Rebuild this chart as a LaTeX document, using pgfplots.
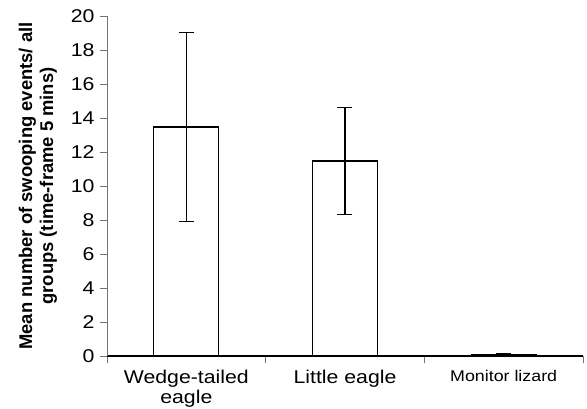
\documentclass[border=0pt]{standalone}
\usepackage{pgfplots}
\pgfplotsset{compat=1.18}
\usepackage{fontspec}
\setmainfont[FakeStretch=1.15]{Liberation Sans}
\newfontfamily\labelfont{Liberation Sans}

\begin{document}
\begin{tikzpicture}
\begin{axis}[
  scale only axis,
  width=476pt, height=340pt,
  xmin=-0.5, xmax=2.5,
  ymin=0, ymax=20,
  ytick={0,2,...,20},
  xtick={0,1,2},
  xticklabels={{Wedge-tailed\\eagle},{Little eagle},{\fontsize{15.5}{18}\selectfont Monitor lizard}},
  minor xtick={-0.5,0.5,1.5,2.5},
  axis x line=bottom,
  axis y line=left,
  axis line style={-},
  x axis line style={line width=1.3pt, black},
  y axis line style={line width=0.5pt, black!55},
  tick align=outside,
  major tick length=7pt,
  minor tick length=7pt,
  xtick style={draw=none},
  minor x tick style={draw=black!55, line width=0.5pt},
  ytick style={black!55, line width=0.5pt},
  /pgf/number format/assume math mode=true,
  ticklabel style={font=\fontsize{18.5}{19.5}\selectfont},
  yticklabel style={xshift=-2pt},
  xticklabel style={align=center, inner sep=0pt, yshift=-7pt},
  ylabel={Mean number of swooping events/ all\\groups (time-frame 5 mins)},
  ylabel style={align=center, font=\labelfont\bfseries\fontsize{18.4}{21}\selectfont,
    at={(axis description cs:-0.145,0.5)}, anchor=center},
  ybar, bar width=65pt,
  clip=false,
]
\addplot[draw=black, fill=white, line width=1.3pt,
  error bars/.cd, y dir=both, y explicit,
  error bar style={line width=1.3pt, black},
  error mark options={rotate=90, line width=1.3pt, mark size=7.5pt, black}]
  coordinates {
    (0,13.47) +- (0,5.57)
    (1,11.47) +- (0,3.15)
    (2,0.1) +- (0,0.03)
  };
\end{axis}
\pgfresetboundingbox
\path (current axis.south west) ++(-107pt,-53pt) rectangle ++(587pt,409pt);
\end{tikzpicture}
\end{document}
